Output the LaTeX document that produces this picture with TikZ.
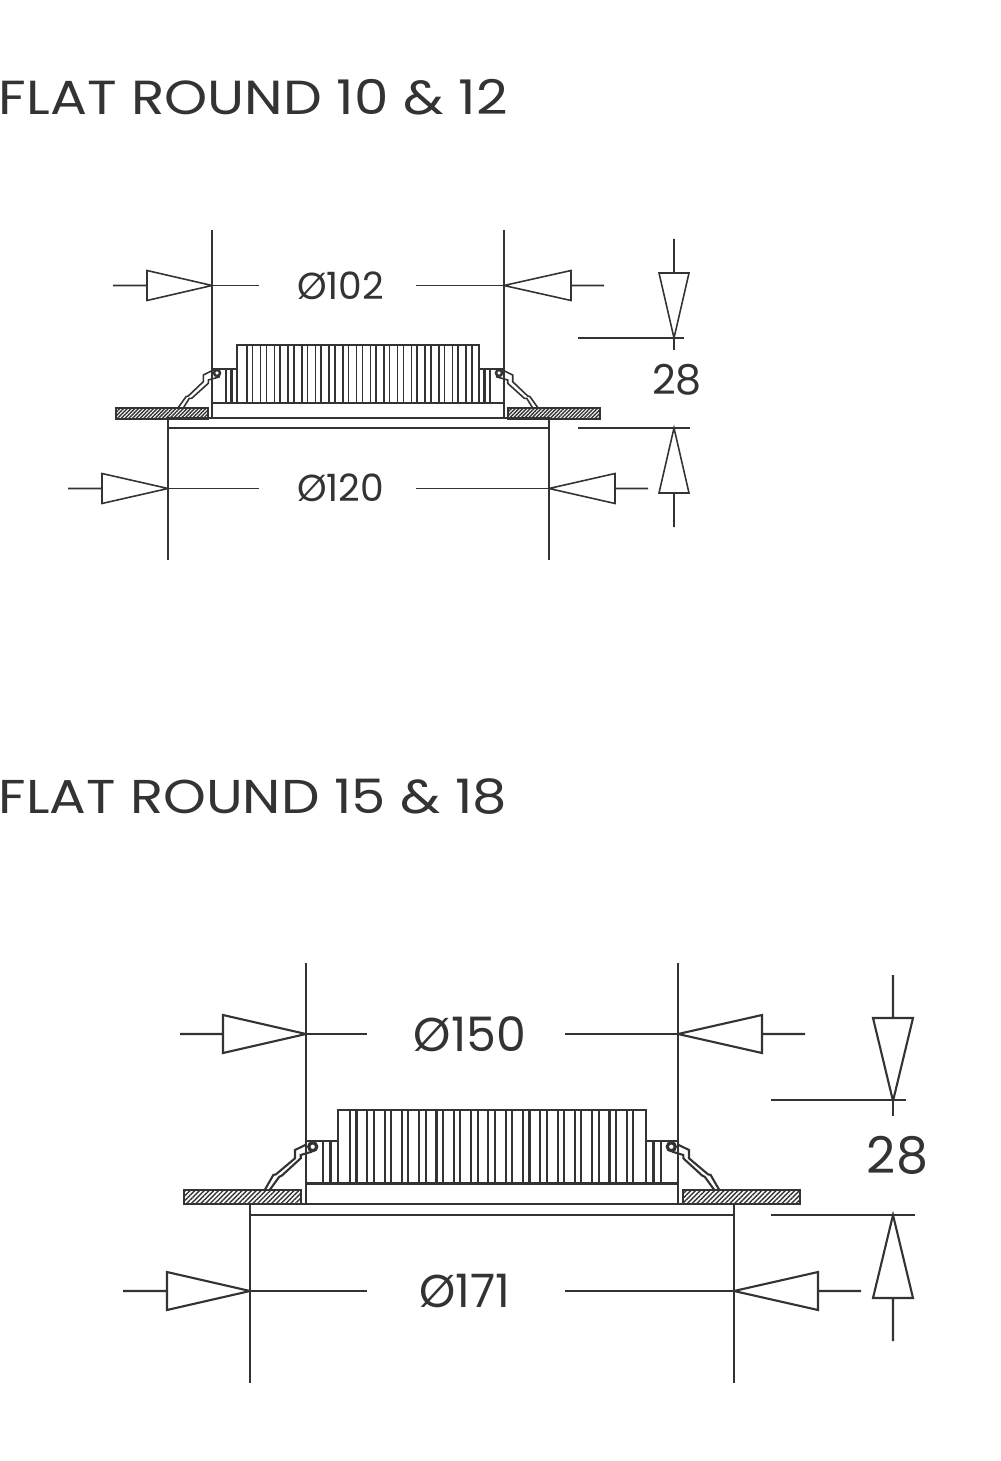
\documentclass[tikz,border=0pt]{standalone}
\usepackage{fontspec}
\setmainfont{Poppins}
\newfontfamily\titlefont[FakeStretch=1.147]{Poppins}
\usepackage{tikz}
\usetikzlibrary{patterns.meta}
\definecolor{ink}{HTML}{333333}
\newcommand{\mytip}[5]{\draw[shift={(#1)},rotate=#2] (0,0) -- (-#3,-#4) -- (-#3,#4) -- cycle (-#3,0) -- ++(-#5,0);}
\tikzset{
  title/.style={anchor=west,text=ink,font=\titlefont\fontsize{13.6pt}{16pt}\selectfont,inner sep=0pt},
  label/.style={text=ink,inner sep=0pt},
  ceiling/.style={draw=ink,pattern={Lines[angle=45,distance=#1,line width=.4pt]},pattern color=ink}
}

\begin{document}
\begin{tikzpicture}[x=0.01cm,y=-0.01cm,draw=ink]
\useasboundingbox (0,0) rectangle (1000,1461);
\node[title] (title1) at (-2,97) {FLAT ROUND 10 \& 12};
\node[title,font=\titlefont\fontsize{13.5pt}{16pt}\selectfont] (title2) at (-2,797) {FLAT ROUND 15 \& 18};

% small fixture
\begin{scope}[line width=0.45pt]
  \draw (212,230) -- (212,365);
  \draw (504,230) -- (504,365);
  \draw (168,428) -- (168,560);
  \draw (549,428) -- (549,560);
  \mytip{212,285.5}{0}{65}{15}{34}
  \mytip{504,285.5}{180}{67}{15}{33}
  \mytip{168,488.5}{0}{66}{15}{34}
  \mytip{549,488.5}{180}{66}{15}{33}
  \draw (212,285.5) -- (259,285.5);
  \draw (416,285.5) -- (504,285.5);
  \draw (168,488.5) -- (259,488.5);
  \draw (416,488.5) -- (549,488.5);
  \mytip{674,338}{-90}{65}{15}{34}
  \mytip{674,428}{90}{65}{15}{34}
  \draw (674,338) -- (674,350);
  \draw (578,338) -- (684,338);
  \draw (578,428) -- (690,428);
  \node[label,font=\fontsize{10.7pt}{12pt}\selectfont] (d102) at (340.5,286) {Ø102};
  \node[label,font=\fontsize{10.7pt}{12pt}\selectfont] (d120) at (340.5,488) {Ø120};
  \node[label,font=\fontsize{11.7pt}{13pt}\selectfont] (h28a) at (677,380) {28};
  % body
  \draw (237,403) -- (237,345) -- (479,345) -- (479,403);
  \draw (212,369) -- (237,369) (479,369) -- (504,369);
  \draw (212,365) -- (212,418) (504,365) -- (504,418);
  \draw (212,403) -- (504,403);
  \draw (208,418) -- (509,418);
  \draw (168,418) rectangle (549,428);
  \foreach \k in {0,...,16} {
    \draw (247+13.7*\k,345) -- (247+13.7*\k,403);
    \draw (252.7+13.7*\k,345) -- (252.7+13.7*\k,403);
  }
  \foreach \m/\s in {0/1,716/-1} {
    \begin{scope}[shift={(\m,0)},xscale=\s]
      \draw (226,369) -- (226,403);
      \draw[line width=0.8pt] (231.7,369) -- (231.7,403);
      \draw (178.3,407.5) -- (186,396.7) -- (188.3,396) -- (203.3,381.7) -- (203.3,375) -- (215,369.3);
      \draw (183.3,408) -- (189.3,398.3) -- (191.7,398.3) -- (208.3,383.3) -- (208.3,380) -- (220,376.7);
      \draw[line width=0.7pt,fill=white] (217,373) circle (3);
      \draw[ceiling=0.75pt] (116,408) rectangle (208,419);
    \end{scope}
  }
\end{scope}

% large fixture
\begin{scope}[line width=0.6pt]
  \draw (306,963) -- (306,1135);
  \draw (678,963) -- (678,1135);
  \draw (250,1215) -- (250,1383);
  \draw (734,1215) -- (734,1383);
  \mytip{306,1034}{0}{83}{19}{43}
  \mytip{678,1034}{180}{84}{19}{43}
  \mytip{250,1291}{0}{83}{19}{44}
  \mytip{734,1291}{180}{84}{19}{43}
  \draw (306,1034) -- (367,1034);
  \draw (565,1034) -- (678,1034);
  \draw (250,1291) -- (367,1291);
  \draw (565,1291) -- (734,1291);
  \mytip{893,1101}{-90}{83}{20}{43}
  \mytip{893,1215}{90}{83}{20}{43}
  \draw (893,1101) -- (893,1116);
  \draw (771,1100) -- (906,1100);
  \draw (771,1215) -- (915,1215);
  \node[label,font=\fontsize{13.5pt}{15pt}\selectfont] (d150) at (470,1034) {Ø150};
  \node[label,font=\fontsize{13.1pt}{15pt}\selectfont] (d171) at (465,1291) {Ø171};
  \node[label,font=\fontsize{14.4pt}{16pt}\selectfont] (h28b) at (897.5,1155) {28};
  % body
  \draw (338.3,1183.5) -- (338.3,1110) -- (646,1110) -- (646,1183.5);
  \draw (306,1140.7) -- (338.3,1140.7) (646,1140.7) -- (678,1140.7);
  \draw (306,1135) -- (306,1204) (678,1135) -- (678,1204);
  \draw (306,1183.5) -- (678,1183.5);
  \draw (301,1204) -- (683,1204);
  \draw (250,1204) rectangle (734,1215);
  \foreach \k in {0,...,16} {
    \draw (350+17.3*\k,1110) -- (350+17.3*\k,1183.5);
    \draw (356.5+17.3*\k,1110) -- (356.5+17.3*\k,1183.5);
  }
  \foreach \m/\s in {0/1,984/-1} {
    \begin{scope}[shift={(\m,0)},xscale=\s]
      \draw (323.3,1140.7) -- (323.3,1183.5);
      \draw[line width=1pt] (330.7,1140.7) -- (330.7,1183.5);
      \draw (265,1189.5) -- (273.3,1175) -- (276,1174.3) -- (295,1158.3) -- (295,1150) -- (306.7,1144.3);
      \draw (270,1189.5) -- (279.3,1176.7) -- (281.7,1175.7) -- (300.7,1158.3) -- (300.7,1155) -- (311.7,1151.7);
      \draw[line width=0.9pt,fill=white] (312.7,1146.7) circle (4);
      \draw[ceiling=0.95pt] (184,1190) rectangle (301,1204);
    \end{scope}
  }
\end{scope}
\end{tikzpicture}
\end{document}
